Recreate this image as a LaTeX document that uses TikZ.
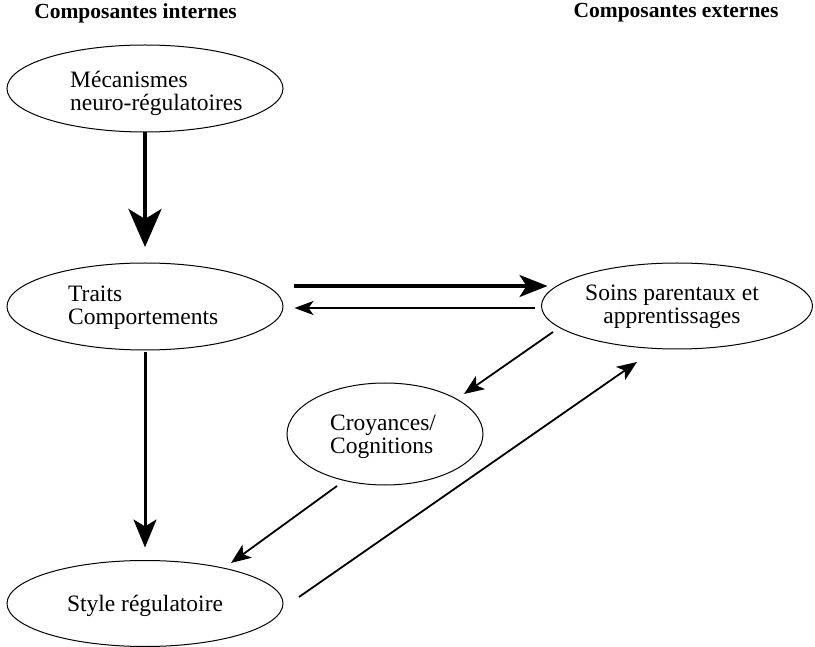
\documentclass[tikz,border=0pt]{standalone}
\usepackage{fontspec}
\setmainfont{Liberation Serif}
\usetikzlibrary{shapes.geometric,arrows.meta,calc}
\begin{document}
\begin{tikzpicture}[x=1pt,y=-1pt,
  ell/.style={draw,ellipse,line width=1pt,inner sep=0pt},
  txt/.style={inner sep=0pt,font=\fontsize{23.5}{23}\selectfont,align=left},
  hdr/.style={inner sep=0pt,font=\fontsize{21.5}{24}\selectfont\bfseries},
  bigarrow/.style={line width=4pt,-{Stealth[length=38pt,width=33pt,inset=10pt]}},
  medarrow/.style={line width=3pt,-{Stealth[length=28pt,width=23pt,inset=7pt]}},
  harrow/.style={line width=3.5pt,-{Stealth[length=28pt,width=22pt,inset=7pt]}},
  thinarrow/.style={line width=2pt,-{Stealth[length=19pt,width=14pt,inset=5pt]}},
  diagarrow/.style={line width=1.8pt,-{Stealth[length=20pt,width=16pt,inset=5pt]}}]
\useasboundingbox (0,0) rectangle (815,647);

\node[hdr] (h1) at (135.5,13) {Composantes internes};
\node[hdr] (h2) at (676,13) {Composantes externes};

\node[ell,minimum width=276pt,minimum height=87pt] (mec) at (145,88.5) {};
\node[ell,minimum width=276pt,minimum height=87pt] (traits) at (145,306.5) {};
\node[ell,minimum width=271pt,minimum height=86pt] (soins) at (677,306) {};
\node[ell,minimum width=196pt,minimum height=102pt] (croy) at (385,434) {};
\node[ell,minimum width=276pt,minimum height=86pt] (style) at (145,603.5) {};

\node[txt,anchor=west] (tmec) at (70,93) {Mécanismes\\neuro-régulatoires};
\node[txt,anchor=west] (ttraits) at (68,308) {Traits\\Comportements};
\node[txt,align=center] (tsoins) at (672,306.5) {Soins parentaux et\\apprentissages};
\node[txt,anchor=west] (tcroy) at (330,437) {Croyances/\\Cognitions};
\node[txt] (tstyle) at (145,605.5) {Style régulatoire};

\draw[bigarrow] (mec.south) -- ($(traits.north)+(0,-15.5)$);
\draw[medarrow] ($(traits.south)+(0,2)$) -- ($(style.north)+(0,-12.5)$);
\draw[harrow] ($(traits.east)+(10,-20.5)$) -- ($(soins.west)+(6.5,-20)$);
\draw[thinarrow] ($(soins.west)+(-6.5,2)$) -- ($(traits.east)+(11,1.5)$);
\draw[diagarrow] ($(soins.center)+(-124,26)$) -- ($(croy.center)+(79,-40)$);
\draw[diagarrow] ($(croy.center)+(-48,52)$) -- ($(style.center)+(86,-40.5)$);
\draw[diagarrow] ($(style.center)+(154,-6.5)$) -- ($(soins.center)+(-40,56)$);
\end{tikzpicture}
\end{document}
